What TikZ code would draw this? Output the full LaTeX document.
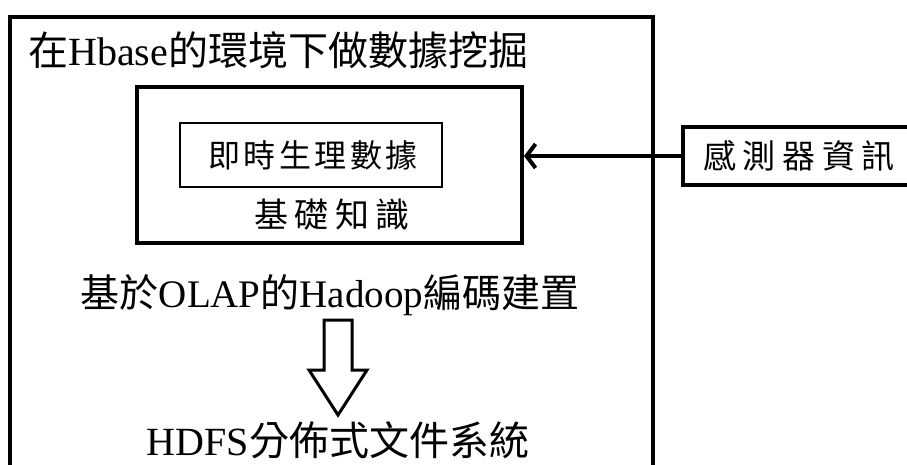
\documentclass[tikz,border=0pt]{standalone}
\usepackage{fontspec}
\setmainfont{Liberation Serif}
\newfontfamily\cjk{Noto Sans CJK TC}
\newfontfamily\cjka[LetterSpace=11]{Noto Sans CJK TC}
\newfontfamily\cjkb[LetterSpace=19]{Noto Sans CJK TC}
\newfontfamily\cjkc[LetterSpace=20]{Noto Sans CJK TC}
\usetikzlibrary{arrows.meta}
\begin{document}
\begin{tikzpicture}[x=1pt,y=-1pt,
  box/.style={draw,line width=4pt,inner sep=0pt},
  thinbox/.style={draw,line width=2pt,inner sep=0pt},
  txt/.style={inner sep=0pt},
  ]
\useasboundingbox (0,0) rectangle (907,464);
\clip (0,0) rectangle (907,464);
\node[box,minimum width=643pt,minimum height=480pt] (outer) at (331.5,257) {};
\node[box,minimum width=385pt,minimum height=156pt] (inner) at (329.5,165) {};
\node[thinbox,minimum width=262pt,minimum height=64pt] (rt) at (311,155) {};
\node[box,minimum width=244pt,minimum height=58pt] (sensor) at (805,156) {};
\node[txt,anchor=west,font=\fontsize{40}{44}\selectfont] (title) at (28,50) {{\cjk 在}Hbase{\cjk 的環境下做數據挖掘}};
\node[txt,font=\fontsize{32}{36}\selectfont] (rtl) at (313,155) {\cjka 即時生理數據};
\node[txt,font=\fontsize{34}{38}\selectfont] (kb) at (332,215) {\cjkb 基礎知識};
\node[txt,font=\fontsize{39}{42}\selectfont] (olap) at (330,295) {{\cjk 基於}OLAP{\cjk 的}Hadoop{\cjk 編碼建置}};
\node[txt,font=\fontsize{40}{44}\selectfont] (hdfs) at (338,440) {HDFS{\cjk 分佈式文件系統}};
\node[txt,font=\fontsize{33}{36}\selectfont] (sl) at (799,156) {\cjkc 感測器資訊};
\draw[line width=4pt,-{Straight Barb[length=9pt,width=24pt,line width=4pt]}] (sensor.west) -- (inner.east |- sensor.west);
\draw[line width=3pt,line join=miter] (324,320) -- (352,320) -- (352,370) -- (367,370) -- (338,415) -- (309,370) -- (324,370) -- cycle;
\end{tikzpicture}
\end{document}
